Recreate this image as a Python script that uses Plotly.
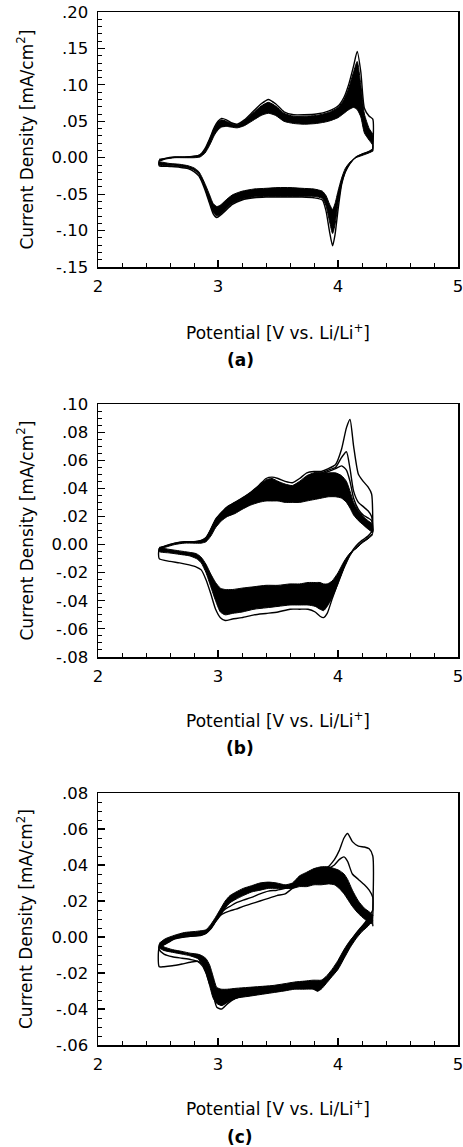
import plotly.graph_objects as go

# ---------------- Panel (a) ----------------
a_x_ox = [2.51, 2.56, 2.64, 2.72, 2.80, 2.85, 2.89, 2.93, 2.97, 3.00, 3.03, 3.07, 3.11, 3.16, 3.22,
          3.29, 3.36, 3.42, 3.48, 3.55, 3.63, 3.72, 3.82, 3.92, 4.00, 4.05, 4.09, 4.13, 4.16, 4.19,
          4.22, 4.26, 4.29, 4.29]
a_c1_ox = [-0.004, -0.001, 0.001, 0.001, 0.002, 0.004, 0.012, 0.026, 0.042, 0.050, 0.054, 0.052, 0.048, 0.046, 0.052,
           0.063, 0.074, 0.080, 0.074, 0.063, 0.059, 0.059, 0.060, 0.064, 0.071, 0.083, 0.101, 0.126, 0.146, 0.118,
           0.068, 0.057, 0.053, 0.012]
a_hi_ox = [-0.002, -0.001, 0.001, 0.001, 0.002, 0.004, 0.011, 0.025, 0.041, 0.049, 0.052, 0.050, 0.047, 0.045, 0.051,
           0.061, 0.071, 0.076, 0.071, 0.061, 0.057, 0.057, 0.058, 0.062, 0.069, 0.080, 0.096, 0.118, 0.132, 0.100,
           0.060, 0.040, 0.032, 0.011]
a_lo_ox = [-0.005, -0.002, 0.000, 0.000, 0.000, 0.001, 0.006, 0.017, 0.031, 0.038, 0.042, 0.043, 0.042, 0.041, 0.044,
           0.051, 0.058, 0.061, 0.058, 0.050, 0.047, 0.046, 0.047, 0.050, 0.055, 0.061, 0.066, 0.069, 0.066, 0.056,
           0.034, 0.024, 0.017, 0.009]
a_x_red = [4.29, 4.25, 4.20, 4.15, 4.10, 4.06, 4.03, 4.00, 3.975, 3.955, 3.93, 3.90, 3.87, 3.80, 3.70,
           3.60, 3.50, 3.40, 3.30, 3.20, 3.12, 3.06, 3.02, 2.99, 2.96, 2.93, 2.90, 2.87, 2.84, 2.80,
           2.75, 2.68, 2.60, 2.51]
a_c1_red = [0.012, 0.008, 0.005, 0.001, -0.008, -0.020, -0.037, -0.072, -0.106, -0.121, -0.102, -0.073, -0.058, -0.055, -0.054,
            -0.054, -0.054, -0.054, -0.055, -0.058, -0.064, -0.073, -0.079, -0.082, -0.077, -0.063, -0.048, -0.035, -0.025, -0.019,
            -0.015, -0.013, -0.012, -0.011]
a_out_red = [0.011, 0.008, 0.005, 0.001, -0.008, -0.020, -0.036, -0.064, -0.092, -0.104, -0.088, -0.066, -0.056, -0.053, -0.053,
             -0.053, -0.053, -0.053, -0.054, -0.057, -0.063, -0.072, -0.078, -0.080, -0.075, -0.061, -0.046, -0.033, -0.023, -0.017,
             -0.014, -0.012, -0.011, -0.010]
a_in_red = [0.009, 0.006, 0.003, 0.000, -0.006, -0.015, -0.028, -0.046, -0.063, -0.071, -0.064, -0.052, -0.046, -0.043, -0.042,
            -0.041, -0.041, -0.042, -0.043, -0.046, -0.051, -0.059, -0.065, -0.067, -0.063, -0.051, -0.039, -0.028, -0.019, -0.014,
            -0.011, -0.009, -0.008, -0.006]
a_yticks = [-0.15, -0.10, -0.05, 0.0, 0.05, 0.10, 0.15, 0.20]
a_ylabels = ["-.15", "-.10", "-.05", "0.00", ".05", ".10", ".15", ".20"]

# ---------------- Panel (b) ----------------
b_x_ox = [2.51, 2.56, 2.64, 2.72, 2.80, 2.86, 2.90, 2.94, 2.98, 3.03, 3.08, 3.14, 3.20, 3.27, 3.34,
          3.40, 3.45, 3.50, 3.56, 3.62, 3.68, 3.74, 3.80, 3.86, 3.92, 3.98, 4.03, 4.07, 4.10, 4.13,
          4.17, 4.21, 4.25, 4.28, 4.29]
b_c1_ox = [-0.003, -0.001, 0.001, 0.002, 0.002, 0.003, 0.005, 0.011, 0.018, 0.023, 0.027, 0.030, 0.033, 0.037, 0.042,
           0.047, 0.048, 0.047, 0.045, 0.044, 0.047, 0.051, 0.052, 0.052, 0.054, 0.057, 0.068, 0.083, 0.089, 0.070,
           0.050, 0.045, 0.041, 0.036, 0.010]
b_hi_ox = [-0.002, -0.001, 0.001, 0.002, 0.002, 0.003, 0.005, 0.011, 0.018, 0.023, 0.027, 0.030, 0.033, 0.037, 0.042,
           0.046, 0.047, 0.045, 0.043, 0.042, 0.045, 0.049, 0.051, 0.051, 0.051, 0.051, 0.049, 0.045, 0.038, 0.030,
           0.024, 0.020, 0.017, 0.015, 0.010]
b_lo_ox = [-0.004, -0.002, 0.000, 0.001, 0.001, 0.001, 0.002, 0.006, 0.012, 0.017, 0.020, 0.022, 0.025, 0.028, 0.030,
           0.031, 0.031, 0.031, 0.030, 0.030, 0.030, 0.031, 0.032, 0.033, 0.034, 0.034, 0.033, 0.030, 0.026, 0.021,
           0.017, 0.014, 0.011, 0.009, 0.008]
b_x_pk = [3.80, 3.86, 3.92, 3.98, 4.03, 4.07, 4.10, 4.13, 4.17, 4.21, 4.25, 4.28, 4.29]
b_c2_pk = [0.051, 0.051, 0.053, 0.055, 0.062, 0.066, 0.054, 0.038, 0.030, 0.027, 0.024, 0.020, 0.010]
b_c3_pk = [0.050, 0.050, 0.052, 0.054, 0.056, 0.053, 0.045, 0.033, 0.025, 0.021, 0.019, 0.017, 0.009]
b_x_red = [4.29, 4.25, 4.20, 4.15, 4.10, 4.05, 4.00, 3.95, 3.91, 3.88, 3.85, 3.81, 3.75, 3.68, 3.60,
           3.50, 3.40, 3.30, 3.20, 3.12, 3.06, 3.02, 2.98, 2.94, 2.90, 2.86, 2.82, 2.76, 2.68, 2.60, 2.51]
b_c1_red = [0.010, 0.006, 0.003, -0.001, -0.007, -0.016, -0.027, -0.039, -0.049, -0.052, -0.051, -0.048, -0.046, -0.046, -0.046,
            -0.048, -0.049, -0.050, -0.052, -0.053, -0.054, -0.052, -0.046, -0.035, -0.025, -0.018, -0.016, -0.0145, -0.013, -0.012,
            -0.010]
b_out_red = [0.008, 0.005, 0.002, -0.002, -0.008, -0.017, -0.028, -0.038, -0.044, -0.047, -0.046, -0.044, -0.043, -0.043, -0.043,
             -0.044, -0.045, -0.046, -0.048, -0.049, -0.050, -0.048, -0.040, -0.030, -0.020, -0.013, -0.010, -0.008, -0.007, -0.006,
             -0.005]
b_in_red = [0.007, 0.004, 0.001, -0.003, -0.006, -0.012, -0.020, -0.026, -0.028, -0.028, -0.027, -0.027, -0.027, -0.028, -0.028,
            -0.029, -0.029, -0.030, -0.031, -0.032, -0.032, -0.031, -0.027, -0.021, -0.014, -0.009, -0.0065, -0.0055, -0.0045, -0.0035,
            -0.0025]
b_yticks = [-0.08, -0.06, -0.04, -0.02, 0.0, 0.02, 0.04, 0.06, 0.08, 0.10]
b_ylabels = ["-.08", "-.06", "-.04", "-.02", "0.00", ".02", ".04", ".06", ".08", ".10"]

# ---------------- Panel (c) ----------------
c_x_ox = [2.51, 2.56, 2.64, 2.72, 2.80, 2.86, 2.90, 2.94, 2.98, 3.02, 3.06, 3.10, 3.15, 3.21, 3.28,
          3.35, 3.42, 3.49, 3.56, 3.62, 3.68, 3.74, 3.80, 3.86, 3.92, 3.97, 4.01, 4.05, 4.08, 4.12,
          4.17, 4.22, 4.26, 4.29, 4.29]
c_hi_ox = [-0.0035, -0.001, 0.001, 0.0025, 0.003, 0.0035, 0.004, 0.007, 0.011, 0.0155, 0.020, 0.023, 0.025, 0.027, 0.0285,
           0.030, 0.0305, 0.030, 0.029, 0.030, 0.034, 0.036, 0.038, 0.039, 0.039, 0.038, 0.037, 0.035, 0.032, 0.026,
           0.020, 0.016, 0.014, 0.012, 0.010]
c_lo_ox = [-0.006, -0.004, -0.001, 0.000, 0.0005, 0.001, 0.002, 0.0045, 0.0085, 0.012, 0.016, 0.019, 0.021, 0.023, 0.025,
           0.026, 0.027, 0.027, 0.027, 0.027, 0.028, 0.028, 0.029, 0.029, 0.0295, 0.029, 0.027, 0.024, 0.021, 0.017,
           0.013, 0.010, 0.008, 0.007, 0.006]
c_c1_ox = [-0.006, -0.004, -0.001, 0.000, 0.0005, 0.001, 0.002, 0.0045, 0.0085, 0.012, 0.0135, 0.0145, 0.0155, 0.017, 0.0185,
           0.020, 0.0215, 0.023, 0.024, 0.027, 0.029, 0.031, 0.033, 0.035, 0.039, 0.043, 0.048, 0.055, 0.0575, 0.053,
           0.0505, 0.050, 0.049, 0.045, 0.015]
c_c2_ox = [-0.005, -0.003, -0.0005, 0.0005, 0.001, 0.0015, 0.0025, 0.005, 0.009, 0.013, 0.0155, 0.017, 0.019, 0.0205, 0.022,
           0.024, 0.0255, 0.026, 0.027, 0.028, 0.030, 0.032, 0.034, 0.036, 0.038, 0.040, 0.043, 0.0445, 0.042, 0.035,
           0.032, 0.029, 0.026, 0.022, 0.012]
c_x_red = [4.29, 4.25, 4.20, 4.15, 4.10, 4.05, 4.00, 3.95, 3.90, 3.86, 3.83, 3.79, 3.72, 3.64, 3.55,
           3.45, 3.35, 3.25, 3.15, 3.08, 3.03, 2.99, 2.96, 2.93, 2.90, 2.87, 2.83, 2.77, 2.70, 2.62,
           2.55, 2.51]
c_out_red = [0.009, 0.006, 0.003, -0.001, -0.006, -0.012, -0.018, -0.022, -0.026, -0.029, -0.030, -0.029, -0.029, -0.029, -0.030,
             -0.031, -0.032, -0.033, -0.034, -0.036, -0.038, -0.037, -0.034, -0.027, -0.020, -0.015, -0.012, -0.0105, -0.0095, -0.0085,
             -0.0075, -0.006]
c_in_red = [0.011, 0.009, 0.006, 0.002, -0.002, -0.007, -0.013, -0.018, -0.022, -0.024, -0.024, -0.024, -0.0245, -0.025, -0.026,
            -0.027, -0.0275, -0.028, -0.0285, -0.029, -0.029, -0.028, -0.022, -0.0155, -0.012, -0.0105, -0.0095, -0.009, -0.008, -0.007,
            -0.0055, -0.004]
c_c1_red = [0.015, 0.010, 0.005, 0.000, -0.005, -0.011, -0.017, -0.021, -0.025, -0.028, -0.030, -0.028, -0.028, -0.0285, -0.029,
            -0.030, -0.031, -0.032, -0.034, -0.037, -0.040, -0.039, -0.032, -0.025, -0.019, -0.015, -0.0135, -0.014, -0.015, -0.016,
            -0.0165, -0.0165]
c_c2_red = [0.012, 0.010, 0.006, 0.002, -0.003, -0.009, -0.015, -0.020, -0.024, -0.026, -0.027, -0.026, -0.027, -0.028, -0.029,
            -0.030, -0.031, -0.032, -0.034, -0.036, -0.038, -0.035, -0.031, -0.026, -0.020, -0.016, -0.0135, -0.0125, -0.0118, -0.011,
            -0.0095, -0.007]
c_yticks = [-0.06, -0.04, -0.02, 0.0, 0.02, 0.04, 0.06, 0.08]
c_ylabels = ["-.06", "-.04", "-.02", "0.00", ".02", ".04", ".06", ".08"]

x_ticks = [2, 3, 4, 5]
x_labels = ["2", "3", "4", "5"]
panel_tags = ["(a)", "(b)", "(c)"]
x_title = "Potential [V vs. Li/Li<sup>+</sup>]"
y_title = "Current Density [mA/cm<sup>2</sup>]"

# ---------------- figure ----------------
FONT = "DejaVu Sans"
fig = go.Figure()


def band(x, hi, lo, sfx):
    assert len(x) == len(hi) == len(lo)
    xs = list(x) + list(x)[::-1]
    ys = list(hi) + list(lo)[::-1]
    fig.add_trace(go.Scatter(x=xs, y=ys, mode="lines", fill="toself", fillcolor="black",
                             line=dict(color="black", width=1, shape="spline", smoothing=0.6),
                             xaxis="x" + sfx, yaxis="y" + sfx, hoverinfo="skip", showlegend=False))


def loop(xo, yo, xr, yr, sfx, w=1.4):
    assert len(xo) == len(yo) and len(xr) == len(yr)
    xs = list(xo) + list(xr) + [xo[0]]
    ys = list(yo) + list(yr) + [yo[0]]
    fig.add_trace(go.Scatter(x=xs, y=ys, mode="lines",
                             line=dict(color="black", width=w, shape="spline", smoothing=0.6),
                             xaxis="x" + sfx, yaxis="y" + sfx, hoverinfo="skip", showlegend=False))


def seg(x, y, sfx, w=1.4):
    assert len(x) == len(y)
    fig.add_trace(go.Scatter(x=x, y=y, mode="lines",
                             line=dict(color="black", width=w, shape="spline", smoothing=0.6),
                             xaxis="x" + sfx, yaxis="y" + sfx, hoverinfo="skip", showlegend=False))


# (a)
band(a_x_ox, a_hi_ox, a_lo_ox, "")
band(a_x_red, a_out_red, a_in_red, "")
loop(a_x_ox, a_c1_ox, a_x_red, a_c1_red, "")
# (b)
band(b_x_ox, b_hi_ox, b_lo_ox, "2")
band(b_x_red, b_out_red, b_in_red, "2")
loop(b_x_ox, b_c1_ox, b_x_red, b_c1_red, "2")
seg(b_x_pk, b_c2_pk, "2")
seg(b_x_pk, b_c3_pk, "2")
# (c)
band(c_x_ox, c_hi_ox, c_lo_ox, "3")
band(c_x_red, c_out_red, c_in_red, "3")
loop(c_x_ox, c_c1_ox, c_x_red, c_c1_red, "3")
loop(c_x_ox, c_c2_ox, c_x_red, c_c2_red, "3")

XDOM = [98 / 463, 458 / 463]
H = 1147.0
ydoms = [[1 - 267 / H, 1 - 12 / H], [1 - 657 / H, 1 - 404 / H], [1 - 1045 / H, 1 - 793 / H]]
yranges = [[-0.15, 0.20], [-0.08, 0.10], [-0.06, 0.08]]
yticks = [a_yticks, b_yticks, c_yticks]
ylabels = [a_ylabels, b_ylabels, c_ylabels]
yminor = [0.01, 0.005, 0.005]

layout = dict(template="none", width=463, height=1147, margin=dict(l=0, r=0, t=0, b=0, pad=0),
              paper_bgcolor="white", plot_bgcolor="white", showlegend=False,
              font=dict(family=FONT, color="black"), hovermode=False)
annotations = []
for i in range(3):
    sfx = "" if i == 0 else str(i + 1)
    layout["xaxis" + sfx] = dict(domain=XDOM, anchor="y" + sfx, range=[2, 5], automargin=False,
                                 tickvals=x_ticks, ticktext=x_labels, ticks="inside", ticklen=7,
                                 tickwidth=1.2, tickcolor="black", showline=True, linecolor="black",
                                 linewidth=1.5, mirror=True, showgrid=False, zeroline=False,
                                 ticklabeloverflow="allow", ticklabelstandoff=4,
                                 tickfont=dict(family=FONT, size=16.5, color="black"),
                                 minor=dict(dtick=0.2, tick0=2, ticks="inside", ticklen=4,
                                            tickcolor="black", tickwidth=1, showgrid=False))
    layout["yaxis" + sfx] = dict(domain=ydoms[i], anchor="x" + sfx, range=yranges[i], automargin=False,
                                 tickvals=yticks[i], ticktext=ylabels[i], ticks="inside", ticklen=7,
                                 tickwidth=1.2, tickcolor="black", showline=True, linecolor="black",
                                 linewidth=1.5, mirror=True, showgrid=False, zeroline=False,
                                 ticklabelstandoff=5, ticklabeloverflow="allow",
                                 tickfont=dict(family=FONT, size=16.5, color="black"),
                                 minor=dict(dtick=yminor[i], tick0=yranges[i][0], ticks="inside", ticklen=4,
                                            tickcolor="black", tickwidth=1, showgrid=False))
    yc = (ydoms[i][0] + ydoms[i][1]) / 2
    annotations.append(dict(text=y_title, x=25 / 463, y=yc, xref="paper", yref="paper",
                            xanchor="center", yanchor="middle", textangle=-90, showarrow=False,
                            font=dict(family=FONT, size=17, color="black")))
xt_y = [332, 720, 1108]
tag_y = [360, 748, 1137]
for i in range(3):
    annotations.append(dict(text=x_title, x=278 / 463, y=1 - xt_y[i] / H, xref="paper", yref="paper",
                            xanchor="center", yanchor="middle", showarrow=False,
                            font=dict(family=FONT, size=17, color="black")))
    annotations.append(dict(text="<b>" + panel_tags[i] + "</b>", x=240 / 463, y=1 - tag_y[i] / H,
                            xref="paper", yref="paper", xanchor="center", yanchor="middle",
                            showarrow=False, font=dict(family=FONT, size=17, color="black")))
layout["annotations"] = annotations
fig.update_layout(**layout)
fig.write_html("out.html", config={"displayModeBar": False, "staticPlot": True},
               post_script="document.body.style.margin='0';document.body.style.overflow='hidden';")
